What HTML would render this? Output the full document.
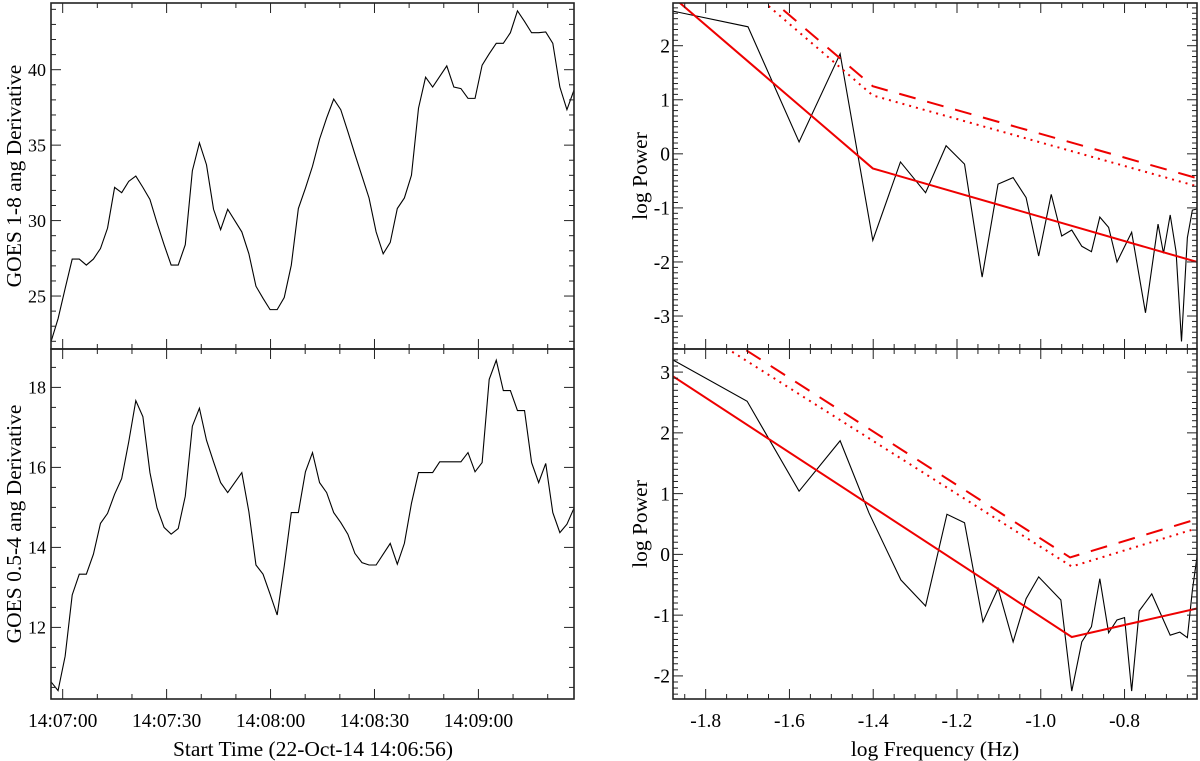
<!DOCTYPE html>
<html><head><meta charset="utf-8"><style>
html,body{margin:0;padding:0;background:#fff;}
svg{display:block;font-family:"Liberation Serif",serif;}
</style></head><body>
<svg id="fig" width="1200" height="761" viewBox="0 0 1200 761" xmlns="http://www.w3.org/2000/svg"></svg>
<script>
// ---- left panels: GOES derivatives (time in s relative to 14:07:00) ----
const goesLongValues = [21.97,23.5,25.5,27.45,27.45,27.05,27.45,28.15,29.5,32.2,31.85,32.6,32.95,32.2,31.4,29.85,28.4,27.05,27.05,28.4,33.3,35.15,33.7,30.75,29.4,30.75,30.0,29.25,27.8,25.65,24.85,24.1,24.1,24.9,27.05,30.8,32.15,33.6,35.4,36.8,38.05,37.35,35.9,34.4,32.95,31.5,29.25,27.8,28.55,30.8,31.5,33.0,37.45,39.5,38.85,39.55,40.25,38.85,38.75,38.1,38.1,40.3,41.05,41.75,41.75,42.45,43.9,43.2,42.45,42.45,42.5,41.75,38.85,37.35,38.65];
const goesShortValues = [10.64,10.42,11.28,12.81,13.33,13.33,13.83,14.6,14.85,15.33,15.72,16.64,17.67,17.27,15.87,14.99,14.5,14.33,14.47,15.28,17.03,17.48,16.68,16.14,15.62,15.37,15.62,15.87,14.89,13.56,13.33,12.83,12.31,13.53,14.87,14.87,15.89,16.37,15.62,15.37,14.87,14.62,14.33,13.85,13.62,13.56,13.56,13.83,14.1,13.58,14.1,15.1,15.87,15.87,15.87,16.14,16.14,16.14,16.14,16.37,15.89,16.12,18.2,18.68,17.92,17.92,17.42,17.42,16.12,15.62,16.1,14.87,14.37,14.58,14.98];
const timeStart = -3.37;
const timeStep = 2.04;
const timeTickLabels = ["14:07:00","14:07:30","14:08:00","14:08:30","14:09:00"];
const timeTickValues = [0,30,60,90,120];
// ---- right panels: power spectra ----
const specTopFreq = [-1.878,-1.699,-1.577,-1.479,-1.401,-1.335,-1.275,-1.226,-1.182,-1.14,-1.102,-1.066,-1.035,-1.005,-0.975,-0.95,-0.926,-0.902,-0.879,-0.859,-0.838,-0.818,-0.783,-0.75,-0.72,-0.707,-0.691,-0.677,-0.664,-0.65,-0.638,-0.627];
const specTopPower = [2.64,2.35,0.22,1.85,-1.6,-0.15,-0.72,0.15,-0.19,-2.28,-0.56,-0.44,-0.81,-1.89,-0.75,-1.52,-1.41,-1.71,-1.81,-1.17,-1.36,-2.0,-1.45,-2.94,-1.3,-1.84,-1.13,-1.81,-3.47,-1.55,-1.04,-1.02];
const fitTopFreq = [-1.878,-1.401,-0.627];
const fitTopPower = [2.90,-0.27,-2.0];
const conf1TopPower = [4.4,1.25,-0.45];
const conf2TopPower = [4.25,1.08,-0.6];
const specBotFreq = [-1.878,-1.701,-1.577,-1.479,-1.41,-1.334,-1.275,-1.224,-1.182,-1.138,-1.102,-1.066,-1.035,-1.005,-0.952,-0.926,-0.902,-0.879,-0.859,-0.838,-0.818,-0.8,-0.783,-0.765,-0.735,-0.691,-0.668,-0.65,-0.638,-0.627];
const specBotPower = [3.2,2.52,1.04,1.87,0.68,-0.42,-0.85,0.66,0.52,-1.11,-0.56,-1.44,-0.73,-0.37,-0.75,-2.25,-1.44,-1.19,-0.40,-1.29,-1.08,-1.04,-2.25,-0.93,-0.65,-1.33,-1.28,-1.37,-0.59,-0.04];
const fitBotFreq = [-1.878,-0.926,-0.627];
const fitBotPower = [2.93,-1.36,-0.89];
const conf1BotFreq = [-1.878,-0.93,-0.627];
const conf1BotPower = [4.13,-0.05,0.58];
const conf2BotPower = [3.95,-0.2,0.43];
const freqTickValues = [-1.8,-1.6,-1.4,-1.2,-1.0,-0.8];
const freqTickLabels = ["-1.8","-1.6","-1.4","-1.2","-1.0","-0.8"];

const NS="http://www.w3.org/2000/svg";
const svg=document.getElementById('fig');
function mk(tag,attrs,parent){const e=document.createElementNS(NS,tag);for(const k in attrs)e.setAttribute(k,attrs[k]);(parent||svg).appendChild(e);return e;}
function scale(d0,d1,r0,r1){return v=>r0+(v-d0)/(d1-d0)*(r1-r0);}

function panel(name,x0,x1,y0,y1,xd,yd){
  const g=mk('g',{});
  
  
  const cid='clip-'+name;
  const cp=mk('clipPath',{id:cid},g);mk('rect',{x:x0,y:y0,width:x1-x0,height:y1-y0},cp);
  return {g,x0,x1,y0,y1,sx:scale(xd[0],xd[1],x0,x1),sy:scale(yd[0],yd[1],y1,y0),xd,yd,cid};
}
function yTicks(p,major,minor,labels,gap,fs){
  const g=mk('g',{},p.g);
  
  
  const start=Math.ceil(p.yd[0]/minor-1e-6);
  for(let i=start;i*minor<=p.yd[1]+1e-9;i++){
    const v=i*minor;const y=p.sy(v);
    const isMaj=Math.abs(v/major-Math.round(v/major))<1e-6;
    const L=isMaj?10:5;
    mk('line',{x1:p.x0,x2:p.x0+L,y1:y,y2:y,stroke:'#222','stroke-width':1},g);
    mk('line',{x1:p.x1,x2:p.x1-L,y1:y,y2:y,stroke:'#222','stroke-width':1},g);
    if(isMaj&&labels){
      const t=mk('text',{x:p.x0-gap,y:y+fs*0.35,'text-anchor':'end','font-size':fs,fill:'#000'},g);
      t.textContent=labels(v);
      
      
    }
  }
}
function xTicks(p,majorVals,minor,labels,showLabels){
  const g=mk('g',{},p.g);
  
  
  const start=Math.ceil(p.xd[0]/minor-1e-6);
  for(let i=start;i*minor<=p.xd[1]+1e-9;i++){
    const v=i*minor;const x=p.sx(v);
    const isMaj=majorVals.some(m=>Math.abs(m-v)<1e-6);
    const L=isMaj?10:5;
    mk('line',{x1:x,x2:x,y1:p.y1,y2:p.y1-L,stroke:'#222','stroke-width':1},g);
    mk('line',{x1:x,x2:x,y1:p.y0,y2:p.y0+L,stroke:'#222','stroke-width':1},g);
  }
  if(showLabels){
    majorVals.forEach((v,i)=>{
      const t=mk('text',{x:p.sx(v),y:p.y1+28,'text-anchor':'middle','font-size':19.5,fill:'#000'},g);
      t.textContent=labels[i];
      
      
    });
  }
}
function line(p,xs,ys,name,attrs){
  const pts=xs.map((x,i)=>p.sx(x).toFixed(2)+','+p.sy(ys[i]).toFixed(2)).join(' ');
  const a=Object.assign({points:pts,fill:'none','clip-path':'url(#'+p.cid+')'},attrs);
  const e=mk('polyline',a,p.g);
  
  
}
function frame(p){
  const r=mk('rect',{x:p.x0,y:p.y0,width:p.x1-p.x0,height:p.y1-p.y0,fill:'none',stroke:'#222','stroke-width':1.6},p.g);
  
  
}
function ylabel(p,text,cx){
  const cy=(p.y0+p.y1)/2;
  const t=mk('text',{x:cx,y:cy,'text-anchor':'middle','dominant-baseline':'central','font-size':21.5,fill:'#000',transform:'rotate(-90 '+cx+' '+cy+')'},p.g);
  t.textContent=text;
  
  
}
const tArr=goesLongValues.map((_,i)=>timeStart+timeStep*i);
const tEnd=timeStart+timeStep*(goesLongValues.length-1);
// top-left
const p1=panel('goes-long-panel',51,574,3,349,[timeStart,tEnd],[21.49,44.42]);
line(p1,tArr,goesLongValues,'goes-1-8-line',{stroke:'#000','stroke-width':1.1});
yTicks(p1,5,1,v=>String(v),5,18);
xTicks(p1,timeTickValues,10,timeTickLabels,false);
frame(p1);ylabel(p1,'GOES 1-8 ang Derivative',14);
// bottom-left
const p2=panel('goes-short-panel',51,574,349,699,[timeStart,tEnd],[10.21,18.96]);
line(p2,tArr,goesShortValues,'goes-0.5-4-line',{stroke:'#000','stroke-width':1.1});
yTicks(p2,2,0.5,v=>String(v),5,18);
xTicks(p2,timeTickValues,10,timeTickLabels,true);
frame(p2);ylabel(p2,'GOES 0.5-4 ang Derivative',14);
let xt=mk('text',{x:313,y:756,'text-anchor':'middle','font-size':21.5,fill:'#000'});
xt.textContent='Start Time (22-Oct-14 14:06:56)';


// top-right
const p3=panel('spectrum-top-panel',673,1197,3,349,[-1.878,-0.627],[-3.61,2.79]);
line(p3,specTopFreq,specTopPower,'power-spectrum-line',{stroke:'#000','stroke-width':1.1});
line(p3,fitTopFreq,conf1TopPower,'confidence-dashed-line',{stroke:'#e00','stroke-width':2,'stroke-dasharray':'17,12'});
line(p3,fitTopFreq,conf2TopPower,'confidence-dotted-line',{stroke:'#e00','stroke-width':2,'stroke-dasharray':'2,5'});
line(p3,fitTopFreq,fitTopPower,'fit-line',{stroke:'#e00','stroke-width':2});
yTicks(p3,1,0.1,v=>String(Math.round(v)),3,19.5);
xTicks(p3,freqTickValues,0.05,freqTickLabels,false);
frame(p3);ylabel(p3,'log Power',640);
// bottom-right
const p4=panel('spectrum-bottom-panel',673,1197,349,699,[-1.878,-0.627],[-2.38,3.38]);
line(p4,specBotFreq,specBotPower,'power-spectrum-line',{stroke:'#000','stroke-width':1.1});
line(p4,conf1BotFreq,conf1BotPower,'confidence-dashed-line',{stroke:'#e00','stroke-width':2,'stroke-dasharray':'17,12'});
line(p4,fitBotFreq,conf2BotPower,'confidence-dotted-line',{stroke:'#e00','stroke-width':2,'stroke-dasharray':'2,5'});
line(p4,fitBotFreq,fitBotPower,'fit-line',{stroke:'#e00','stroke-width':2});
yTicks(p4,1,0.1,v=>String(Math.round(v)),3,19.5);
xTicks(p4,freqTickValues,0.05,freqTickLabels,true);
frame(p4);ylabel(p4,'log Power',640);
xt=mk('text',{x:935,y:756,'text-anchor':'middle','font-size':21.5,fill:'#000'});
xt.textContent='log Frequency (Hz)';


</script>
</body></html>
